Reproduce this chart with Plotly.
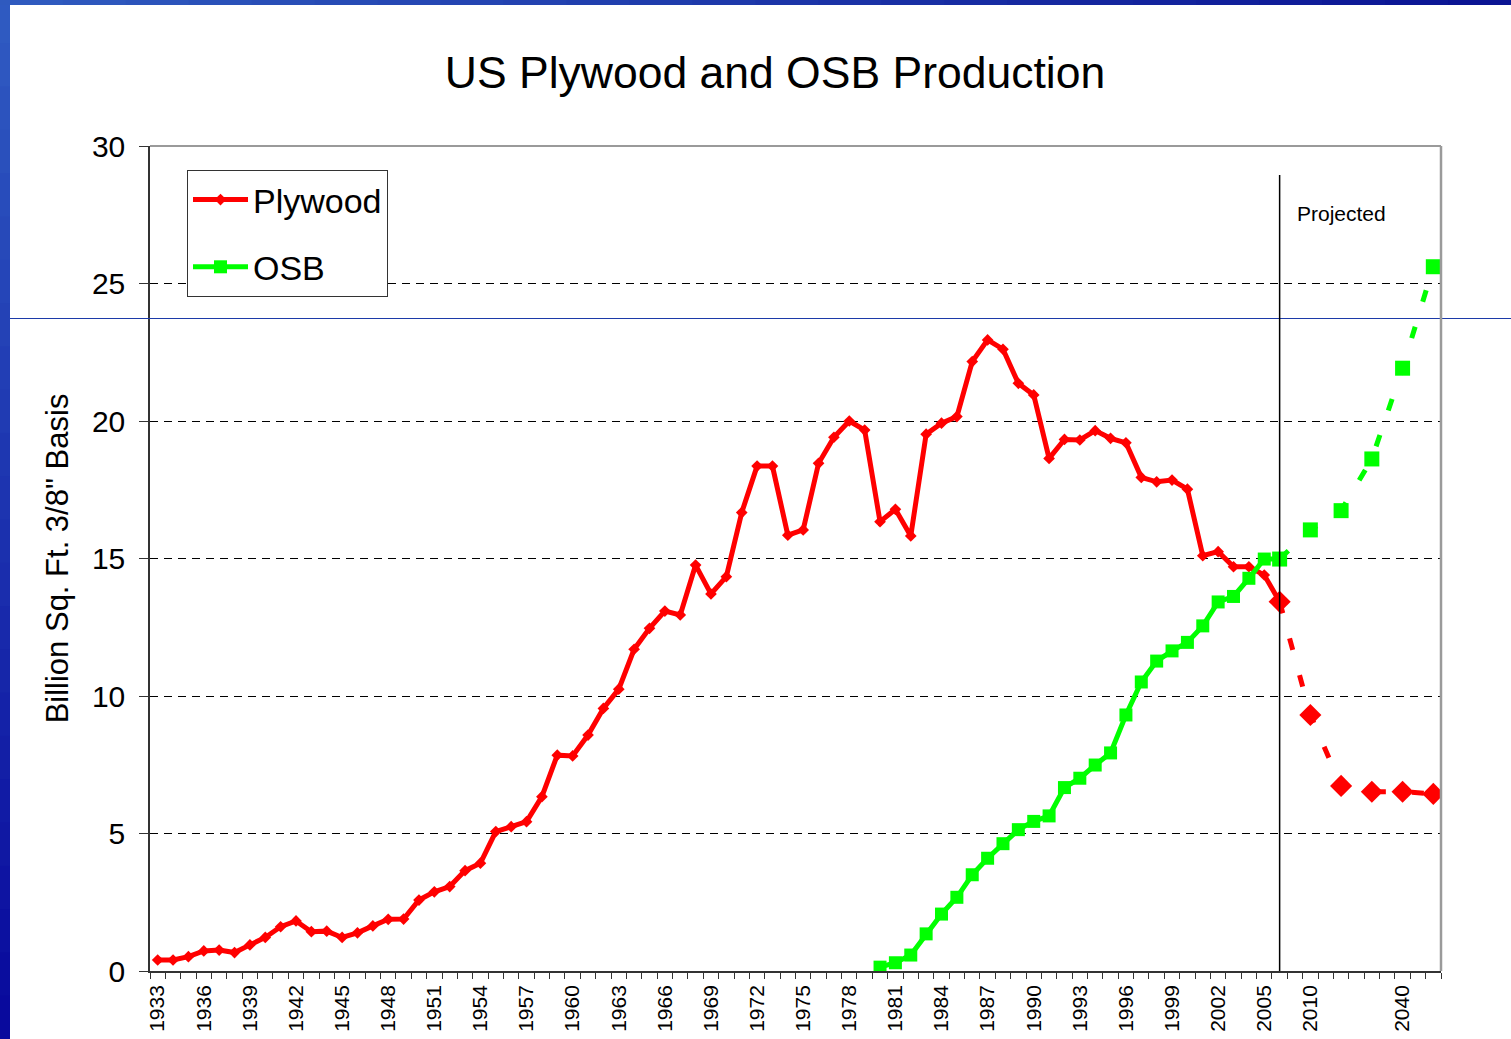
import plotly.graph_objects as go

# ---------------- data ----------------
hist_years = [str(y) for y in range(1933, 2007)]
blank_cats = ["2008", "2015", "2025", "2035", "2045"]
proj_years = ["2010", "2020", "2030", "2040", "2050"]
categories = hist_years + ["2008", "2010", "2015", "2020", "2025", "2030", "2035", "2040", "2045", "2050"]

plywood_hist = [0.40, 0.40, 0.52, 0.73, 0.76, 0.67, 0.95, 1.22, 1.61, 1.82,
                1.43, 1.45, 1.22, 1.39, 1.64, 1.88, 1.89, 2.58, 2.88, 3.07,
                3.65, 3.92, 5.07, 5.25, 5.43, 6.34, 7.85, 7.82, 8.58, 9.55,
                10.25, 11.70, 12.46, 13.09, 12.95, 14.76, 13.71, 14.34, 16.67, 18.36,
                18.36, 15.85, 16.04, 18.46, 19.41, 20.00, 19.67, 16.34, 16.79, 15.82,
                19.52, 19.92, 20.16, 22.16, 22.95, 22.61, 21.37, 20.95, 18.64, 19.33,
                19.31, 19.65, 19.37, 19.21, 17.95, 17.79, 17.85, 17.52, 15.10, 15.25,
                14.70, 14.70, 14.40, 13.43]
osb_years = [str(y) for y in range(1980, 2007)]
osb_hist = [0.14, 0.30, 0.58, 1.35, 2.07, 2.68, 3.50, 4.10, 4.63, 5.14,
            5.44, 5.64, 6.67, 7.01, 7.49, 7.93, 9.31, 10.51, 11.27, 11.64,
            11.95, 12.55, 13.42, 13.62, 14.28, 14.98, 14.98]
plywood_proj = [9.31, 6.73, 6.52, 6.52, 6.44]
osb_proj = [16.04, 16.74, 18.62, 21.92, 25.61]

tick_labels = [c if (i % 3 == 0 and c not in blank_cats) else "" for i, c in enumerate(categories)]
divider_idx = categories.index("2006")
label_idx = categories.index("2020")

RED = "#ff0000"
GREEN = "#00ff00"
FONT = "Arial, Liberation Sans, sans-serif"

fig = go.Figure()

fig.add_trace(go.Scatter(
    x=hist_years, y=plywood_hist, name="Plywood", mode="lines+markers",
    line=dict(color=RED, width=5), marker=dict(symbol="diamond", size=9, color=RED),
    legendgroup="a"))
fig.add_trace(go.Scatter(
    x=osb_years, y=osb_hist, name="OSB", mode="lines+markers",
    line=dict(color=GREEN, width=5), marker=dict(symbol="square", size=13, color=GREEN),
    legendgroup="b"))
fig.add_trace(go.Scatter(
    x=[hist_years[-1]] + proj_years, y=[plywood_hist[-1]] + plywood_proj,
    mode="lines+markers", showlegend=False,
    line=dict(color=RED, width=5, dash="12px,26px"),
    marker=dict(symbol="diamond", size=17, color=RED)))
fig.add_trace(go.Scatter(
    x=[osb_years[-1]] + proj_years, y=[osb_hist[-1]] + osb_proj,
    mode="lines+markers", showlegend=False,
    line=dict(color=GREEN, width=5, dash="12px,26px"),
    marker=dict(symbol="square", size=15, color=GREEN)))

shapes = []
n = 24
def mix(c1, c2, t):
    return "rgb(%d,%d,%d)" % tuple(round(a + (b - a) * t) for a, b in zip(c1, c2))
W, H = 1511, 1039
L, R, T, B = 150, 70, 146, 68
pw, ph = W - L - R, H - T - B
def px(xp): return (xp - L) / pw
def py(yp): return (H - B - yp) / ph
for k in range(n):
    t0, t1 = k / n, (k + 1) / n
    shapes.append(dict(type="rect", xref="paper", yref="paper",
                       x0=px(0), x1=px(10), y0=py(H * t1 + 1), y1=py(H * t0),
                       fillcolor=mix((48, 92, 194), (8, 8, 156), (t0 + t1) / 2),
                       line=dict(width=0), layer="above"))
    shapes.append(dict(type="rect", xref="paper", yref="paper",
                       x0=px(W * t0), x1=px(W * t1 + 1), y0=py(5), y1=py(0),
                       fillcolor=mix((48, 92, 192), (10, 18, 146), (t0 + t1) / 2),
                       line=dict(width=0), layer="above"))
shapes.append(dict(type="line", xref="paper", yref="paper", x0=px(10), x1=px(W), y0=py(318.5), y1=py(318.5),
                   line=dict(color="#1c3aa8", width=1), layer="above"))
shapes.append(dict(type="line", xref="paper", yref="paper", x0=0, x1=1, y0=1, y1=1,
                   line=dict(color="#9a9a9a", width=2), layer="above"))
shapes.append(dict(type="line", xref="paper", yref="paper", x0=1, x1=1, y0=0, y1=1,
                   line=dict(color="#9a9a9a", width=2.5), layer="above"))
shapes.append(dict(type="line", xref="x", yref="y", x0=divider_idx, x1=divider_idx, y0=0, y1=28.95,
                   line=dict(color="black", width=1.5), layer="above"))

fig.update_layout(
    width=W, height=H,
    margin=dict(l=L, r=R, t=T, b=B, autoexpand=False),
    paper_bgcolor="white", plot_bgcolor="white",
    font=dict(family=FONT, color="black"),
    title=dict(text="US Plywood and OSB Production", x=775 / W, xanchor="center",
               y=1 - 72 / H, yanchor="middle", font=dict(size=44.5, family=FONT, color="black")),
    shapes=shapes,
    showlegend=True,
    legend=dict(x=px(187), y=py(170), xanchor="left", yanchor="top",
                bgcolor="white", bordercolor="#333333", borderwidth=1,
                font=dict(size=34, family=FONT), tracegroupgap=20,
                itemwidth=55, traceorder="grouped"),
    annotations=[dict(text="Projected", x=label_idx, y=(971 - 213) / 27.5, xref="x", yref="y",
                      showarrow=False, font=dict(size=21, family=FONT, color="black"))],
)
fig.update_xaxes(
    type="category", categoryorder="array", categoryarray=categories,
    range=[-0.5, len(categories) - 0.5], automargin=False,
    tickmode="array", tickvals=categories, ticktext=tick_labels,
    tickson="boundaries", ticks="outside", ticklen=6, tickcolor="#333333", tickwidth=1,
    tickangle=-90, tickfont=dict(size=21, family=FONT, color="black"), ticklabelstandoff=4,
    showline=True, linecolor="#333333", linewidth=1.5, showgrid=False, zeroline=False)
fig.update_yaxes(
    range=[0, 30], dtick=5, tick0=0, automargin=False,
    ticks="outside", ticklen=9, tickcolor="#333333", tickwidth=1,
    tickfont=dict(size=30, family=FONT, color="black"), ticklabelstandoff=8,
    showline=True, linecolor="#333333", linewidth=1.5,
    showgrid=True, gridcolor="black", gridwidth=1, griddash="8px,6px", zeroline=False,
    title=dict(text="Billion Sq. Ft. 3/8\" Basis", font=dict(size=31, family=FONT, color="black"),
               standoff=14))

fig.write_html("out.html", config={"displayModeBar": False},
               post_script="document.body.style.margin='0';")
